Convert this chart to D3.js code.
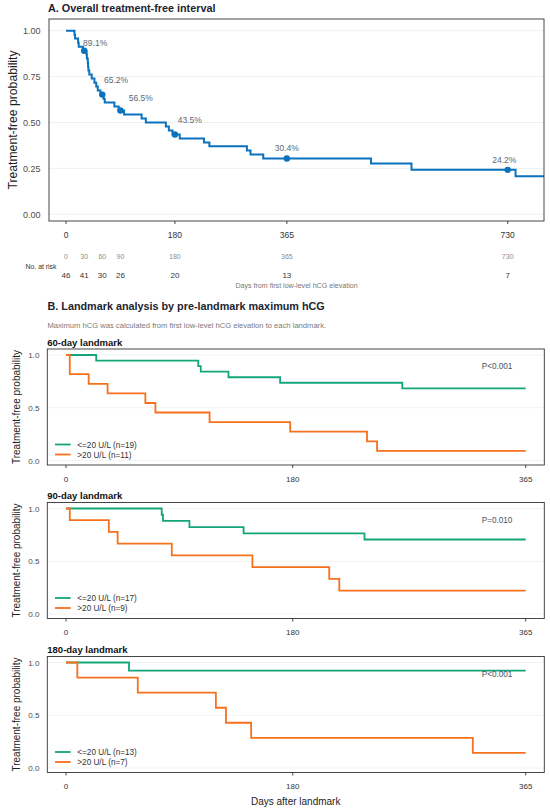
<!DOCTYPE html>
<html><head><meta charset="utf-8">
<script src="https://cdn.jsdelivr.net/npm/d3@7"></script>
<style>
body{margin:0;background:#fff}
svg{display:block}
text{font-family:"Liberation Sans",Arial,Helvetica,sans-serif}
</style>
</head><body>
<svg id="c" width="550" height="812"></svg>
<script>
// ---------------- DATA ----------------
const overallDays = [0,14,15,20,21,28,34,34.5,36,36.5,37,38.5,42.5,47,50,52.5,57,62,64,80,87,96,125,132,165,170,176,188,228,237,299,305,326,504,571,743,800];
const overallSurv = [1,0.978,0.957,0.935,0.913,0.891,0.870,0.848,0.826,0.804,0.783,0.761,0.739,0.717,0.696,0.674,0.652,0.630,0.609,0.587,0.565,0.543,0.522,0.500,0.478,0.457,0.435,0.413,0.391,0.370,0.348,0.326,0.304,0.277,0.242,0.207,0.207];
const markerDays = [30,60,90,180,365,730];
const markerLabels = ["89.1%","65.2%","56.5%","43.5%","30.4%","24.2%"];
const riskDays = [0,30,60,90,180,365,730];
const riskCounts = [46,41,30,26,20,13,7];
const topXTicks = [0,180,365,730];
const topYTicks = [0,0.25,0.5,0.75,1];

const landmarkTitles = ["60-day landmark","90-day landmark","180-day landmark"];
const pValues = ["P<0.001","P=0.010","P<0.001"];
const groupNames = ["<=20 U/L",">20 U/L"];
const lowN = [19,17,13];
const highN = [11,9,7];
const low60Days = [0,24,105,107,129,170,267,365];
const low60Surv = [1,0.947,0.895,0.842,0.789,0.737,0.684,0.684];
const high60Days = [0,3,18,33,63,71,114,178,239,247,365];
const high60Surv = [1,0.818,0.727,0.636,0.545,0.455,0.364,0.273,0.182,0.091,0.091];
const low90Days = [0,76,77,98,141,237,365];
const low90Surv = [1,0.941,0.882,0.824,0.765,0.706,0.706];
const high90Days = [0,3,34,41,84,148,209,217,365];
const high90Surv = [1,0.889,0.778,0.667,0.556,0.444,0.333,0.222,0.222];
const low180Days = [0,50,365];
const low180Surv = [1,0.923,0.923];
const high180Days = [0,9,57,119,127,147,323,365];
const high180Surv = [1,0.857,0.714,0.571,0.429,0.286,0.143,0.143];
const lmXTicks = [0,180,365];
const lmYTicks = [0,0.5,1];

// ---------------- STYLE / LAYOUT ----------------
const blue = "#0b72bd", green = "#14a57b", orange = "#f7701c";
const frameCol = "#333", gridCol = "#e8eef1";
const labelNudge = [[11,-7.4],[13.7,-14.6],[20.3,-12.3],[14.8,-14.4],[0,-10.2],[-3.4,-9.9]];

const svg = d3.select("#c");
const zip = (a,b) => a.map((d,i)=>({t:d,s:b[i]}));

// ---------------- PANEL A ----------------
const A = {left:49, right:544, top:19, bottom:221};
const xA = d3.scaleLinear().domain([0,730]).range([66,507.7]);
const yA = d3.scaleLinear().domain([0,1]).range([214.3,30.7]);

svg.append("text").attr("x",48).attr("y",12).attr("font-size",10.8).attr("font-weight","bold")
  .attr("fill","#1c2530").text("A. Overall treatment-free interval");

const gA = svg.append("g");
gA.selectAll("line.grid").data(topYTicks).join("line")
  .attr("x1",A.left).attr("x2",A.right).attr("y1",d=>yA(d)).attr("y2",d=>yA(d))
  .attr("stroke",gridCol).attr("stroke-width",0.8);

svg.append("clipPath").attr("id","clipA").append("rect")
  .attr("x",A.left).attr("y",A.top).attr("width",A.right-A.left).attr("height",A.bottom-A.top);

const lineA = d3.line().x(d=>xA(d.t)).y(d=>yA(d.s)).curve(d3.curveStepAfter);
const overall = zip(overallDays, overallSurv);
gA.append("path").datum(overall).attr("d",lineA).attr("fill","none")
  .attr("stroke",blue).attr("stroke-width",2).attr("clip-path","url(#clipA)");

const bis = d3.bisector(d=>d.t).right;
const survAt = t => overall[Math.max(0,bis(overall,t)-1)].s;
gA.selectAll("circle.m").data(markerDays).join("circle")
  .attr("cx",d=>xA(d)).attr("cy",d=>yA(survAt(d))).attr("r",3.2).attr("fill",blue);
gA.selectAll("text.pl").data(markerDays).join("text")
  .attr("x",(d,i)=>xA(d)+labelNudge[i][0]).attr("y",(d,i)=>yA(survAt(d))+labelNudge[i][1]+3)
  .attr("text-anchor","middle").attr("font-size",8.5).attr("fill","#5a6a78")
  .text((d,i)=>markerLabels[i]);

gA.append("rect").attr("x",A.left).attr("y",A.top).attr("width",A.right-A.left).attr("height",A.bottom-A.top)
  .attr("fill","none").attr("stroke",frameCol).attr("stroke-width",0.9);

gA.selectAll("text.yt").data(topYTicks).join("text")
  .attr("x",40.5).attr("y",d=>yA(d)+3.2).attr("text-anchor","end").attr("font-size",9)
  .attr("fill","#4d4d4d").text(d=>d3.format(".2f")(d));
gA.selectAll("line.xt").data(topXTicks).join("line")
  .attr("x1",d=>xA(d)).attr("x2",d=>xA(d)).attr("y1",A.bottom).attr("y2",A.bottom+3)
  .attr("stroke",frameCol).attr("stroke-width",0.9);
gA.selectAll("text.xt").data(topXTicks).join("text")
  .attr("x",d=>xA(d)).attr("y",A.bottom+16.8).attr("text-anchor","middle").attr("font-size",8.5)
  .attr("fill","#333").text(d=>d);

svg.append("text").attr("transform",`translate(16.5,${(A.top+A.bottom)/2}) rotate(-90)`)
  .attr("text-anchor","middle").attr("font-size",12.2).attr("fill","#222").text("Treatment-free probability");

// risk table
gA.selectAll("text.rd").data(riskDays).join("text")
  .attr("x",d=>xA(d)).attr("y",259).attr("text-anchor","middle").attr("font-size",7)
  .attr("fill","#8c8c8c").text(d=>d);
gA.selectAll("text.rc").data(riskCounts).join("text")
  .attr("x",(d,i)=>xA(riskDays[i])).attr("y",277.5).attr("text-anchor","middle").attr("font-size",8)
  .attr("fill","#333").text(d=>d);
svg.append("text").attr("x",25.5).attr("y",268.5).attr("font-size",6.9).attr("fill","#333").text("No. at risk");
svg.append("text").attr("x",(A.left+A.right)/2).attr("y",288.3).attr("text-anchor","middle")
  .attr("font-size",7.1).attr("fill","#777").text("Days from first low-level hCG elevation");

// ---------------- PANEL B ----------------
svg.append("text").attr("x",47.5).attr("y",309.5).attr("font-size",10.8).attr("font-weight","bold")
  .attr("fill","#1c2530").text("B. Landmark analysis by pre-landmark maximum hCG");
svg.append("text").attr("x",47.5).attr("y",328.3).attr("font-size",7.6).attr("fill","#7a7a7a")
  .text("Maximum hCG was calculated from first low-level hCG elevation to each landmark.");

const lmLow = [zip(low60Days,low60Surv), zip(low90Days,low90Surv), zip(low180Days,low180Surv)];
const lmHigh = [zip(high60Days,high60Surv), zip(high90Days,high90Surv), zip(high180Days,high180Surv)];
const panelTops = [349, 502.5, 656.5];
const PH = 116, PL = 47.3, PR = 544.3;
const xB = d3.scaleLinear().domain([0,365]).range([66,525.7]);

panelTops.forEach((top,k)=>{
  const bottom = top+PH;
  const yB = d3.scaleLinear().domain([0,1]).range([bottom-4.5, top+6]);
  const g = svg.append("g");
  g.append("text").attr("x",47.3).attr("y",top-3.3).attr("font-size",9.5).attr("font-weight","bold")
    .attr("fill","#111").text(landmarkTitles[k]);
  g.selectAll("line.grid").data(lmYTicks).join("line")
    .attr("x1",PL).attr("x2",PR).attr("y1",d=>yB(d)).attr("y2",d=>yB(d))
    .attr("stroke","#efefef").attr("stroke-width",0.8);
  const line = d3.line().x(d=>xB(d.t)).y(d=>yB(d.s)).curve(d3.curveStepAfter);
  g.append("path").datum(lmLow[k]).attr("d",line).attr("fill","none").attr("stroke",green).attr("stroke-width",1.8);
  g.append("path").datum(lmHigh[k]).attr("d",line).attr("fill","none").attr("stroke",orange).attr("stroke-width",1.8);
  g.append("rect").attr("x",PL).attr("y",top).attr("width",PR-PL).attr("height",PH)
    .attr("fill","none").attr("stroke",frameCol).attr("stroke-width",0.9);
  g.selectAll("text.yt").data(lmYTicks).join("text")
    .attr("x",39.5).attr("y",d=>yB(d)+3).attr("text-anchor","end").attr("font-size",8.1)
    .attr("fill","#4d4d4d").text(d=>d3.format(".1f")(d));
  g.selectAll("line.xt").data(lmXTicks).join("line")
    .attr("x1",d=>xB(d)).attr("x2",d=>xB(d)).attr("y1",bottom).attr("y2",bottom+3)
    .attr("stroke",frameCol).attr("stroke-width",0.9);
  g.selectAll("text.xt").data(lmXTicks).join("text")
    .attr("x",d=>xB(d)).attr("y",bottom+16.5).attr("text-anchor","middle").attr("font-size",8)
    .attr("fill","#333").text(d=>d);
  g.append("text").attr("transform",`translate(20,${top+PH/2}) rotate(-90)`)
    .attr("text-anchor","middle").attr("font-size",10).attr("fill","#222").text("Treatment-free probability");
  g.append("text").attr("x",481.7).attr("y",yB(1)+14).attr("font-size",8.2).attr("fill","#4a5560").text(pValues[k]);
  const y0 = yB(0);
  const leg = [{c:green, lab:`${groupNames[0]} (n=${lowN[k]})`, y:y0-16},{c:orange, lab:`${groupNames[1]} (n=${highN[k]})`, y:y0-6}];
  leg.forEach(l=>{
    g.append("line").attr("x1",55).attr("x2",70.7).attr("y1",l.y).attr("y2",l.y).attr("stroke",l.c).attr("stroke-width",1.8);
    g.append("text").attr("x",77.3).attr("y",l.y+3).attr("font-size",8.2).attr("fill","#333").text(l.lab);
  });
});

svg.append("text").attr("x",295.7).attr("y",805).attr("text-anchor","middle").attr("font-size",10)
  .attr("fill","#222").text("Days after landmark");
</script>
</body></html>
